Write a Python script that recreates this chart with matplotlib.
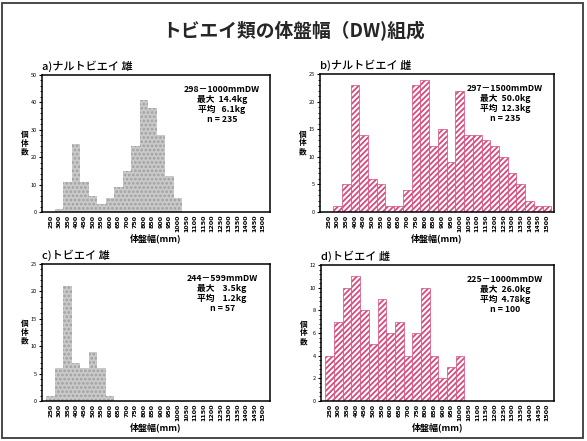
import numpy as np
import matplotlib.pyplot as plt
from matplotlib.patches import Rectangle

plt.rcParams['font.family'] = ['Noto Sans CJK JP', 'DejaVu Sans']
plt.rcParams['hatch.linewidth'] = 1.3

# 体盤幅の階級（50mm刻み）
bins = np.arange(250, 1501, 50)
tick_labels = [str(b) for b in bins]

# a) ナルトビエイ 雄
naruto_m = [0, 1, 11, 25, 11, 6, 3, 5, 9, 15, 24, 41, 38, 28, 13, 5,
            0, 0, 0, 0, 0, 0, 0, 0, 0, 0]
# b) ナルトビエイ 雌
naruto_f = [0, 1, 5, 23, 14, 6, 5, 1, 1, 4, 23, 24, 12, 15, 9, 22,
            14, 14, 13, 12, 10, 7, 5, 2, 1, 1]
# c) トビエイ 雄
tobi_m = [1, 6, 21, 7, 6, 9, 6, 1, 0, 0, 0, 0, 0, 0, 0, 0,
          0, 0, 0, 0, 0, 0, 0, 0, 0, 0]
# d) トビエイ 雌
tobi_f = [4, 7, 10, 11, 8, 5, 9, 6, 7, 4, 6, 10, 4, 2, 3, 4,
          0, 0, 0, 0, 0, 0, 0, 0, 0, 0]

panels = [
    ('a)ナルトビエイ 雄', naruto_m, 50, 10,
     ['298－1000mmDW', '最大  14.4kg', '平均   6.1kg', 'n = 235'], 'm'),
    ('b)ナルトビエイ 雌', naruto_f, 25, 5,
     ['297－1500mmDW', '最大  50.0kg', '平均  12.3kg', 'n = 235'], 'f'),
    ('c)トビエイ 雄', tobi_m, 25, 5,
     ['244－599mmDW', '最大    3.5kg', '平均    1.2kg', 'n = 57'], 'm'),
    ('d)トビエイ 雌', tobi_f, 12, 2,
     ['225－1000mmDW', '最大  26.0kg', '平均  4.78kg', 'n = 100'], 'f'),
]

W, H = 587, 441
boxes = [(42, 75, 270, 212), (320, 74, 554, 212),
         (42, 264, 270, 401), (321, 265, 554, 401)]

fig = plt.figure(figsize=(W / 100, H / 100), dpi=100)
fig.patches.append(Rectangle((0.004, 0.006), 0.99, 0.988, transform=fig.transFigure,
                             fill=False, edgecolor='#3a3a3a', linewidth=1.3))
fig.text(0.5, 1 - 31 / H, 'トビエイ類の体盤幅（DW)組成', ha='center', va='center',
         fontsize=13.5, fontweight='bold', color='#262626')

for (title, counts, ymax, ystep, info, sex), (x0, y0, x1, y1) in zip(panels, boxes):
    ax = fig.add_axes([x0 / W, 1 - y1 / H, (x1 - x0) / W, (y1 - y0) / H])
    if sex == 'm':
        # 灰色の網かけ
        ax.bar(bins, counts, width=50, color='#cacaca', edgecolor='none', linewidth=0)
        ax.bar(bins, counts, width=50, color='none', edgecolor='#a0a0a0',
               hatch='....', linewidth=0)
    else:
        ax.bar(bins, counts, width=50, color='white', edgecolor='#d64a7c',
               hatch='//////', linewidth=0.5)
    ax.set_xlim(200, 1540)
    ax.set_ylim(0, ymax)
    ax.set_yticks(np.arange(0, ymax + 1, ystep))
    ax.set_yticks(np.arange(0, ymax + 0.01, ystep / 5), minor=True)
    ax.set_xticks(bins)
    ax.set_xticklabels(tick_labels, rotation=90, fontsize=4.6, fontweight='bold',
                       family=['DejaVu Sans'])
    ax.tick_params(axis='y', labelsize=4, length=2.5, width=0.8, pad=1)
    ax.tick_params(axis='y', which='minor', length=1.5, width=0.6)
    ax.tick_params(axis='x', length=0, pad=2)
    for s in ax.spines.values():
        s.set_linewidth(1.1)
    ax.text(0.0, 1.02, title, transform=ax.transAxes, fontsize=8,
            ha='left', va='bottom', fontweight='medium')
    ax.text(0.79, 0.93, '\n'.join(info), transform=ax.transAxes, fontsize=6.3,
            ha='center', va='top', fontweight='bold', linespacing=1.15)
    ax.set_xlabel('体盤幅(mm)', fontsize=6.5, fontweight='bold', labelpad=1)
    fig.text((x0 - 17) / W, 1 - (y0 + y1) / 2 / H, '個\n体\n数', fontsize=5.5,
             fontweight='bold', ha='center', va='center', linespacing=1.0)

fig.savefig('out.png', dpi=100)
